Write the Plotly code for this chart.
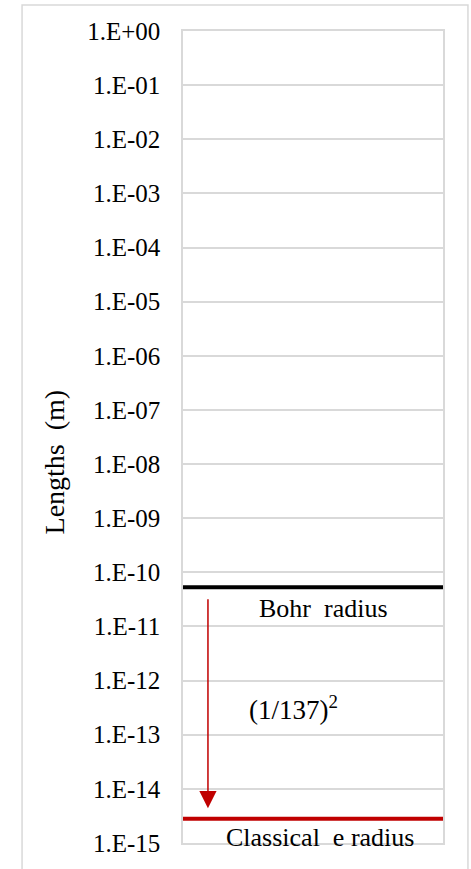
import numpy as np
import plotly.graph_objects as go

# ---- data ----
tick_exponents = list(range(0, -16, -1))
tick_vals = [10.0 ** e for e in tick_exponents]
tick_text = ["1.E+00", "1.E-01", "1.E-02", "1.E-03", "1.E-04", "1.E-05", "1.E-06",
             "1.E-07", "1.E-08", "1.E-09", "1.E-10", "1.E-11", "1.E-12", "1.E-13",
             "1.E-14", "1.E-15"]
line_names = ["Bohr  radius", "Classical  e radius"]
line_values = [5.29e-11, 2.82e-15]
line_colors = ["#000000", "#C00000"]
x_span = [0, 1]
arrow_x = 0.096
arrow_from = 3.4e-11
arrow_to = 4.4e-15
ratio_label = "(1/137)<sup>2</sup>"
ratio_pos = (0.425, 3.1e-13)

FONT = "Liberation Serif"

fig = go.Figure()
for name, val, col in zip(line_names, line_values, line_colors):
    fig.add_trace(go.Scatter(x=x_span, y=[val, val], mode="lines",
                             line=dict(color=col, width=4), hoverinfo="skip",
                             showlegend=False, cliponaxis=False))

annotations = []
# arrow
annotations.append(dict(x=arrow_x, y=np.log10(arrow_to), ax=arrow_x, ay=np.log10(arrow_from),
                        xref="x", yref="y", axref="x", ayref="y", text="",
                        showarrow=True, arrowhead=2, arrowsize=2.3, arrowwidth=1.5,
                        arrowcolor="#C00000"))
# line labels
shifts = [-21, -19]
label_x = [0.54, 0.525]
for name, val, sh, lx in zip(line_names, line_values, shifts, label_x):
    annotations.append(dict(x=lx, y=np.log10(val), xref="x", yref="y", text=name,
                            showarrow=False, yshift=sh, xanchor="center", yanchor="middle",
                            font=dict(family=FONT, size=26, color="#000000")))
annotations.append(dict(x=ratio_pos[0], y=np.log10(ratio_pos[1]), xref="x", yref="y",
                        text=ratio_label, showarrow=False, xanchor="center", yanchor="middle",
                        font=dict(family=FONT, size=27, color="#000000")))
# y-axis title
annotations.append(dict(x=-0.495, y=0.469, xref="paper", yref="paper", text="Lengths  (m)",
                        textangle=-90, showarrow=False, xanchor="center", yanchor="middle",
                        font=dict(family=FONT, size=28, color="#000000")))

shapes = [dict(type="rect", xref="paper", yref="paper", x0=-0.619, x1=1.096, y0=-0.2, y1=1.032,
               line=dict(color="#D9D9D9", width=1.5), fillcolor="rgba(0,0,0,0)", layer="below")]

fig.update_layout(
    width=471, height=869,
    margin=dict(l=183, r=28, t=31, b=18),
    paper_bgcolor="white", plot_bgcolor="white",
    font=dict(family=FONT, size=25, color="#000000"),
    annotations=annotations, shapes=shapes,
    xaxis=dict(range=x_span, showgrid=False, showticklabels=False, zeroline=False,
               showline=True, linecolor="#D9D9D9", linewidth=1.5, mirror=True, ticks=""),
    yaxis=dict(type="log", range=[-15, 0], tickvals=tick_vals, ticktext=tick_text,
               showgrid=True, gridcolor="#D9D9D9", gridwidth=1.5, zeroline=False,
               showline=True, linecolor="#D9D9D9", linewidth=1.5, mirror=True,
               ticks="", ticklabelstandoff=16,
               tickfont=dict(family=FONT, size=25, color="#000000")),
)

fig.write_html("out.html")
